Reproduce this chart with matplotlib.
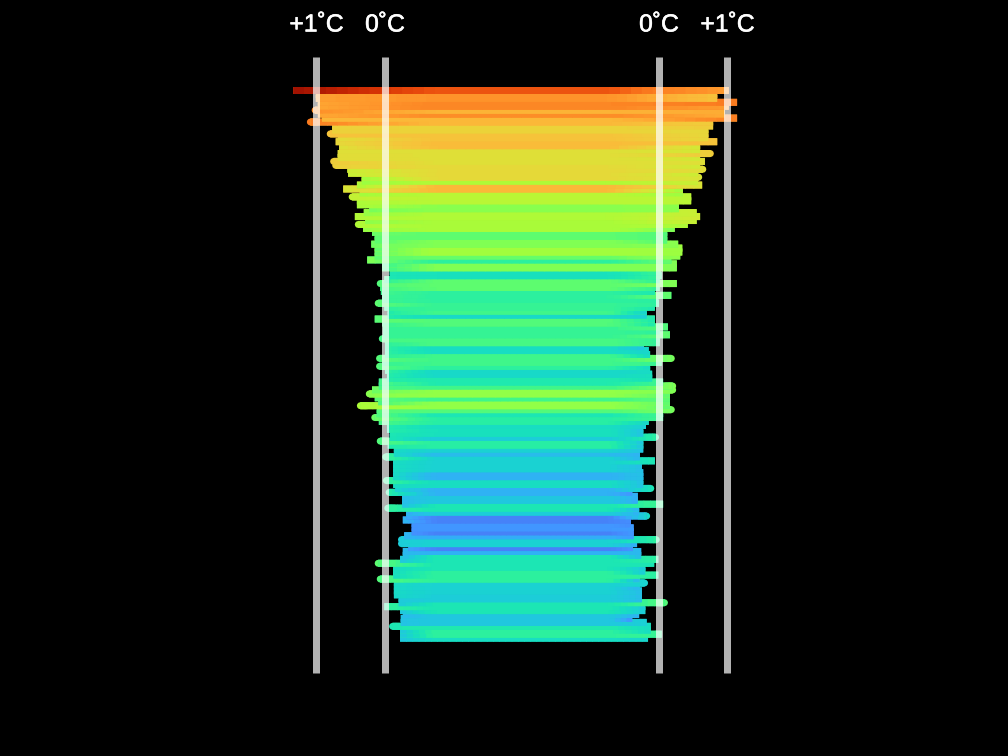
import numpy as np
import matplotlib
matplotlib.use("Agg")
import matplotlib.pyplot as plt
import matplotlib.patheffects as pe
from matplotlib.collections import LineCollection

# Years run from newest (first entry) to oldest (last entry); anomalies in deg C
LAST_YEAR = 2019
LEFT = [1.34,1.01,1.01,.98,.98,1.07,.98,.92,1.14,.77,.77,.85,.69,.72,.67,.67,.69,.69,.80,.77,
        .55,.54,.34,.34,.41,.61,.37,.53,.41,.41,.23,.31,.44,.29,.44,.32,.19,.15,.15,.20,
        .15,.15,.15,.26,.04,.04,-.07,-.07,.01,.12,.07,.06,.04,.04,.15,.01,-.04,-.04,.15,.04,
        .03,.03,.03,.09,0,0,0,0,.13,.04,.13,0,-.03,-.03,.09,.09,.19,.28,.15,.10,
        .41,.12,.12,.20,.09,-.03,-.03,-.07,-.07,.12,-.04,-.13,-.13,.04,-.12,-.12,-.12,-.12,-.12,.03,
        -.12,-.15,-.01,-.25,-.25,-.25,.01,-.31,-.31,-.26,-.39,-.39,-.39,-.28,-.19,-.19,-.34,-.26,-.26,-.22,
        .15,-.12,-.12,-.12,.12,-.13,-.13,-.13,-.13,-.20,-.20,.01,-.22,-.26,-.23,-.23,-.06,-.22,-.22,-.22]
RIGHT = [1.02,.85,.85,1.14,1.02,.96,.96,1.14,.79,.79,.72,.72,.72,.85,.60,.60,.80,.60,.67,.60,
         .69,.57,.63,.57,.63,.35,.35,.47,.47,.29,.29,.55,.60,.55,.42,.23,.12,.12,.12,.28,
         .34,.34,.31,.18,.26,.26,.03,.04,.01,.26,.01,-.06,.18,-.01,0,-.06,-.18,-.18,-.06,-.06,
         .13,.01,.16,.01,.01,-.22,-.15,-.13,.23,.04,-.13,-.13,-.10,-.10,.06,.25,.25,.16,.16,.16,
         .16,.23,.06,.06,-.15,-.19,-.23,-.23,0,-.23,-.23,-.23,-.28,-.28,-.06,-.25,-.25,-.23,-.23,-.23,
         -.23,-.07,-.39,-.31,-.31,.06,-.29,-.29,-.13,-.41,-.41,-.37,-.37,-.37,.01,-.32,-.38,-.26,-.26,-.01,
         -.07,-.20,-.20,-.01,-.28,-.16,-.28,-.25,-.25,-.25,.13,-.20,-.20,-.29,-.39,-.18,-.12,-.12,.04,-.16]
MID = [1.20,1.05,1.05,1.10,1.10,.93,1.08,.90,.90,.75,.75,.85,.85,.88,.88,.68,.68,.68,.68,.71,
       .71,.71,.71,.43,.90,.90,.47,.47,.47,.28,.28,.43,.43,.40,.40,.40,.15,.15,.25,.25,
       .37,.37,.18,0,.25,.25,-.10,-.10,.15,.15,.15,0,0,0,.03,.03,.06,-.14,.12,.12,
       .03,.03,.03,.09,.09,-.12,-.12,.06,.06,.06,0,-.14,-.14,-.05,-.05,.06,.31,.31,.06,.31,
       .31,.12,-.07,-.02,-.02,-.12,-.10,-.10,-.19,-.02,-.02,-.17,-.26,-.17,-.17,-.17,-.17,-.29,-.29,-.12,
       -.12,-.29,-.29,-.21,-.21,-.07,-.07,-.19,-.45,-.45,-.38,-.38,-.45,-.31,-.17,-.17,-.45,-.29,-.07,-.07,
       -.07,-.07,0,0,0,-.17,-.17,-.17,-.19,-.19,-.07,-.07,-.07,-.21,-.21,-.21,-.05,0,0,-.12]
ROUND_LEFT = [5,8,11,18,19,27,34,49,54,63,68,70,77,80,83,89,93,99,102,106,114,115,120,124,136]
ROUND_RIGHT = [16,20,22,68,75,76,81,88,101,108,114,125,130]

LINE_VALUES = [1, 0, 0, 1]
LINE_LABELS = ["+1˚C", "0˚C", "0˚C", "+1˚C"]

# colour scale: anomaly -> position on the turbo map
SCALE_A = [-0.5, 0, 0.4, 0.85, 1.15, 1.25, 1.35]
SCALE_T = [0.14, 0.37, 0.51, 0.65, 0.76, 0.86, 0.97]
cmap = plt.get_cmap("turbo")
def colour(a):
    return cmap(np.interp(a, SCALE_A, SCALE_T))

BASE = 2.0          # half width of the chart at 0 deg C
PX = 68.5           # pixels per deg C
CX, Y0, DY = 522, 90.5, 3.94
W, H = 1008, 756
LW = 7 * 72 / 100

fig = plt.figure(figsize=(W / 100, H / 100), dpi=100, facecolor="black")
ax = fig.add_axes([0, 0, 1, 1], facecolor="black")
ax.set_xlim(-CX / PX, (W - CX) / PX)
ax.set_ylim(LAST_YEAR + Y0 / DY - H / DY, LAST_YEAR + Y0 / DY)
ax.axis("off")

n = len(MID)
for k in range(n - 1, -1, -1):
    yr = LAST_YEAR - k
    z = 10 + (n - k)
    xl, xr = -(BASE + LEFT[k]), BASE + RIGHT[k]
    xs = np.linspace(xl, xr, 41)
    vals = np.interp(xs, [xl, -1.3, 1.3, xr], [LEFT[k], MID[k], MID[k], RIGHT[k]])
    stop = np.minimum(xs[1:] + 0.01, xr)
    segs = [[(a, yr), (b, yr)] for a, b in zip(xs[:-1], stop)]
    cols = [colour(v) for v in 0.5 * (vals[:-1] + vals[1:])]
    base_l, base_r = xl, xr
    if k in ROUND_LEFT:
        ax.plot([xl + 0.05, xl + 0.15], [yr, yr], lw=LW, color=colour(LEFT[k]),
                solid_capstyle="round", zorder=z, snap=False)
        base_l = xl + 0.05
        segs[0] = [(base_l, yr), segs[0][1]]
    if k in ROUND_RIGHT:
        ax.plot([xr - 0.15, xr - 0.05], [yr, yr], lw=LW, color=colour(RIGHT[k]),
                solid_capstyle="round", zorder=z, snap=False)
        base_r = xr - 0.05
        segs[-1] = [segs[-1][0], (base_r, yr)]
    ax.plot([base_l, base_r], [yr, yr], lw=LW, color=colour(MID[k]),
            solid_capstyle="butt", zorder=z, snap=False)
    lc = LineCollection(segs, colors=cols, linewidths=LW, capstyle="butt", zorder=z)
    lc.set_snap(False)
    ax.add_collection(lc)

top = LAST_YEAR + (Y0 - 57) / DY
bottom = LAST_YEAR + (Y0 - 673) / DY
label_y = LAST_YEAR + (Y0 - 24.5) / DY
for sign, v, lab in zip([-1, -1, 1, 1], LINE_VALUES, LINE_LABELS):
    x = sign * (BASE + v)
    ax.plot([x, x], [bottom, top], color="white", alpha=0.7, lw=LW,
            solid_capstyle="butt", zorder=500)
    ax.text(x, label_y, lab, color="white", fontsize=17.8, family="Liberation Sans",
            ha="center", va="center", zorder=501,
            path_effects=[pe.withStroke(linewidth=0.4, foreground="white")])

fig.savefig("out.png", dpi=100, facecolor="black")
